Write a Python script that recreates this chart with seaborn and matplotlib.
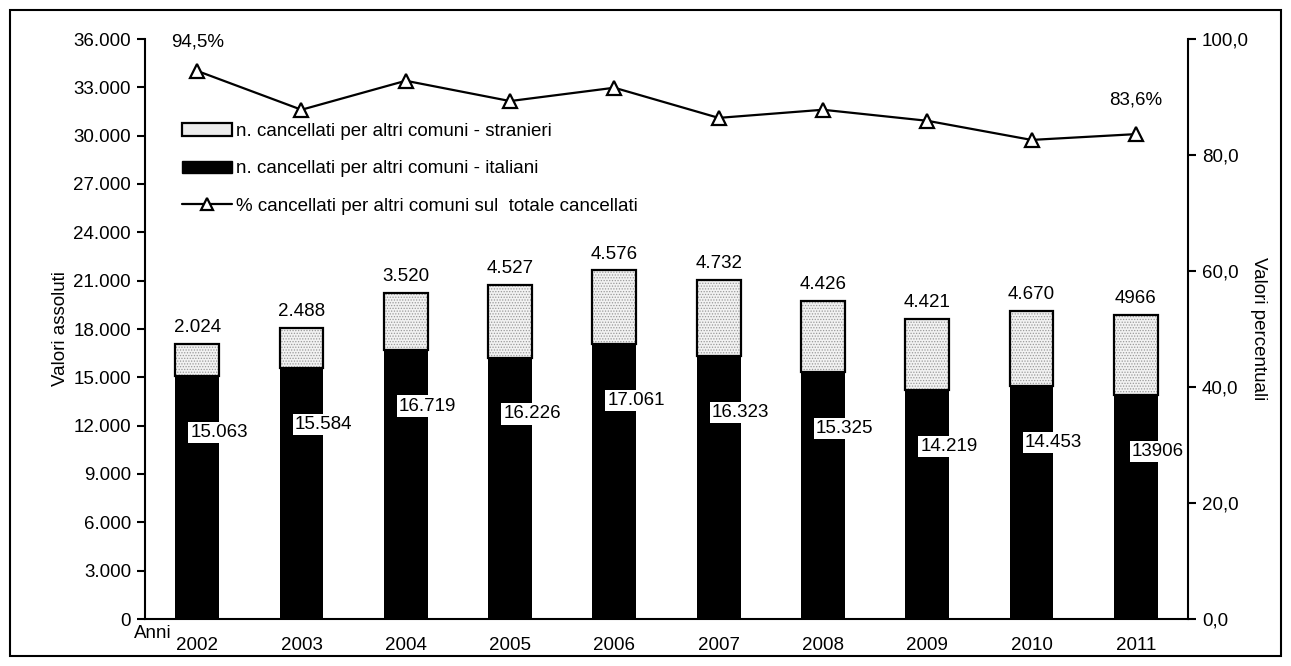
import numpy as np
import pandas as pd
import matplotlib
matplotlib.use('Agg')
import matplotlib.pyplot as plt
import seaborn as sns
from matplotlib.patches import Rectangle, Patch
from matplotlib.lines import Line2D

anni = ['2002', '2003', '2004', '2005', '2006', '2007', '2008', '2009', '2010', '2011']
italiani = [15063, 15584, 16719, 16226, 17061, 16323, 15325, 14219, 14453, 13906]
stranieri = [2024, 2488, 3520, 4527, 4576, 4732, 4426, 4421, 4670, 4966]
lab_italiani = ['15.063', '15.584', '16.719', '16.226', '17.061', '16.323', '15.325', '14.219', '14.453', '13906']
lab_stranieri = ['2.024', '2.488', '3.520', '4.527', '4.576', '4.732', '4.426', '4.421', '4.670', '4966']
perc = [94.5, 87.8, 92.8, 89.3, 91.6, 86.4, 87.8, 85.9, 82.6, 83.6]

sns.set_theme(style='white')
plt.rcParams['font.family'] = ['Liberation Sans', 'DejaVu Sans']
plt.rcParams.update({'text.color': 'black', 'axes.labelcolor': 'black',
                     'xtick.color': 'black', 'ytick.color': 'black', 'hatch.linewidth': 0.6})
fs = 13.5

df = pd.DataFrame({'anno': anni, 'italiani': italiani, 'stranieri': stranieri, 'perc': perc})

fig = plt.figure(figsize=(12.91, 6.66), dpi=100)
fig.patches.append(Rectangle((10 / 1291, 10 / 666), 1271 / 1291, 646 / 666, transform=fig.transFigure,
                             fill=False, edgecolor='black', linewidth=1.5))
ax = fig.add_axes([145 / 1291, 1 - 619 / 666, (1188 - 145) / 1291, (619 - 39) / 666])

sns.barplot(data=df, x='anno', y='italiani', color='black', width=0.42, saturation=1,
            linewidth=0, ax=ax)
n0 = len(ax.patches)
# stranieri: light stippled fill, black outline drawn on top
sns.barplot(data=df, x='anno', y='stranieri', bottom=df['italiani'], color='#f2f2f2', width=0.42,
            saturation=1, edgecolor='#999999', linewidth=0, hatch='......', ax=ax)
for p in list(ax.patches[n0:]):
    ax.add_patch(Rectangle(p.get_xy(), p.get_width(), p.get_height(), fill=False,
                           edgecolor='black', linewidth=1.6, zorder=3))

for i in range(len(anni)):
    ax.text(i, italiani[i] + stranieri[i] + 1000, lab_stranieri[i], ha='center', va='center', fontsize=fs)
    ax.text(i + 0.21, italiani[i] - 3500, lab_italiani[i], ha='center', va='center', fontsize=fs,
            zorder=4, bbox=dict(facecolor='white', edgecolor='none', pad=1.5))

ax.set_ylim(0, 36000)
ax.set_xlim(-0.5, 9.5)
ax.set_yticks(np.arange(0, 36001, 3000))
ax.set_yticklabels([f'{v:,}'.replace(',', '.') for v in range(0, 36001, 3000)], fontsize=fs)
ax.set_xticks(range(len(anni)))
ax.set_xticklabels(anni, fontsize=fs)
ax.tick_params(axis='x', length=0, pad=13)
ax.tick_params(axis='y', direction='out', length=6, width=1.5, left=True, pad=4)
ax.set_xlabel('')
ax.set_ylabel('Valori assoluti', fontsize=fs, labelpad=3)
for s in ['top', 'right']:
    ax.spines[s].set_visible(False)
for s in ['left', 'bottom']:
    ax.spines[s].set_color('black')
    ax.spines[s].set_linewidth(1.5)
ax.text(-0.43, -930, 'Anni', ha='center', va='center', fontsize=fs)

ax2 = ax.twinx()
sns.lineplot(x=np.arange(len(anni)), y=perc, color='black', linewidth=1.6, marker='^', markersize=10,
             markerfacecolor='white', markeredgecolor='black', markeredgewidth=1.6, ax=ax2)
ax2.set_ylim(0, 100)
ax2.set_yticks(np.arange(0, 101, 20))
ax2.set_yticklabels([f'{v:.1f}'.replace('.', ',') for v in range(0, 101, 20)], fontsize=fs)
ax2.tick_params(axis='y', direction='out', length=6, width=1.5, right=True, pad=4)
ax2.set_ylabel('Valori percentuali', fontsize=fs, rotation=270, labelpad=13)
for s in ['top', 'left', 'bottom']:
    ax2.spines[s].set_visible(False)
ax2.spines['right'].set_color('black')
ax2.spines['right'].set_linewidth(1.5)
ax2.text(0, perc[0] + 5, '94,5%', ha='center', va='center', fontsize=fs)
ax2.text(9, perc[-1] + 5.8, '83,6%', ha='center', va='center', fontsize=fs)

handles = [Patch(facecolor='#ececec', edgecolor='black', linewidth=1.6),
           Patch(facecolor='black', edgecolor='black'),
           Line2D([], [], color='black', linewidth=1.6, marker='^', markersize=9,
                  markerfacecolor='white', markeredgecolor='black', markeredgewidth=1.6)]
labels = ['n. cancellati per altri comuni - stranieri', 'n. cancellati per altri comuni - italiani',
          '% cancellati per altri comuni sul  totale cancellati']
ax2.legend(handles, labels, loc='upper left', bbox_to_anchor=(0.035, 0.855), frameon=False, fontsize=fs,
           handlelength=2.7, handleheight=0.65, handletextpad=0.2, labelspacing=1.08,
           borderpad=0, borderaxespad=0)

fig.savefig('out.png', dpi=100)
